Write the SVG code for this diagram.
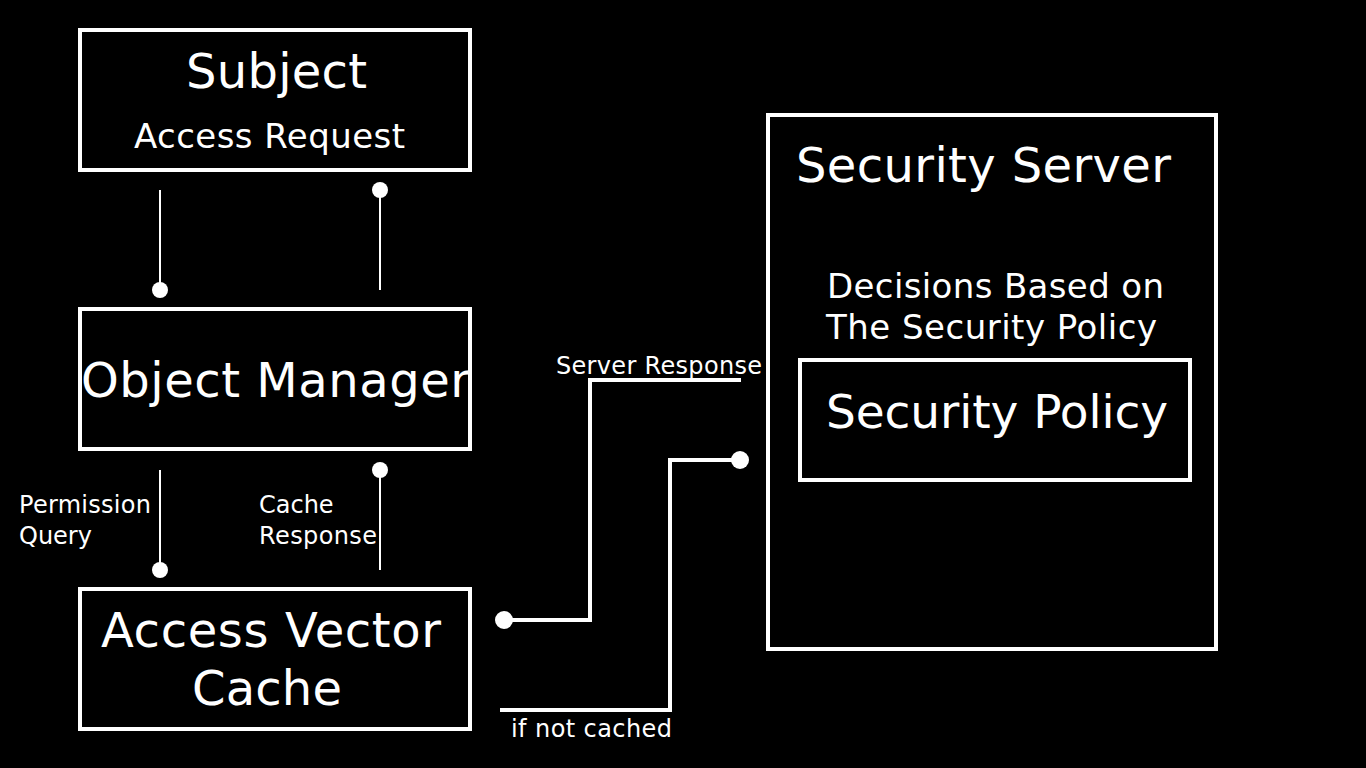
<svg xmlns="http://www.w3.org/2000/svg" width="1366" height="768" viewBox="0 0 1366 768">
<style>
text{font-family:"DejaVu Sans","Liberation Sans",sans-serif;fill:#fff}
.box{fill:none;stroke:#fff;stroke-width:4}
.big{font-size:48px}
.mid{font-size:34px}
.sm{font-size:24px}
.thin{fill:none;stroke:#fff;stroke-width:2}
.thick{fill:none;stroke:#fff;stroke-width:4}
.dot{fill:#fff}
</style>
<rect width="1366" height="768" fill="#000"/>
<g id="subject">
<rect class="box" x="80" y="30" width="390" height="140"/>
<text class="big" x="186" y="88" textLength="181">Subject</text>
<text class="mid" x="134" y="148" textLength="271">Access Request</text>
</g>
<g id="object-manager">
<rect class="box" x="80" y="309" width="390" height="140"/>
<text class="big" x="81" y="397" textLength="389">Object Manager</text>
</g>
<g id="avc">
<rect class="box" x="80" y="589" width="390" height="140"/>
<text class="big" x="101" y="647" textLength="340">Access Vector</text>
<text class="big" x="192" y="705" textLength="150">Cache</text>
</g>
<g id="security-server">
<rect class="box" x="768" y="115" width="448" height="534"/>
<text class="big" x="796" y="182" textLength="375">Security Server</text>
<text class="mid" x="827" y="298" textLength="337">Decisions Based on</text>
<text class="mid" x="826" y="339" textLength="331">The Security Policy</text>
</g>
<g id="security-policy">
<rect class="box" x="800" y="360" width="390" height="120"/>
<text class="big" style="font-size:47px" x="826" y="428" textLength="342">Security Policy</text>
</g>
<g id="connectors">
<line class="thin" x1="160" y1="190" x2="160" y2="290"/>
<circle class="dot" cx="160" cy="290" r="8"/>
<line class="thin" x1="380" y1="190" x2="380" y2="290"/>
<circle class="dot" cx="380" cy="190" r="8"/>
<line class="thin" x1="160" y1="470" x2="160" y2="570"/>
<circle class="dot" cx="160" cy="570" r="8"/>
<line class="thin" x1="380" y1="470" x2="380" y2="570"/>
<circle class="dot" cx="380" cy="470" r="8"/>
<polyline class="thick" points="504,620 590,620 590,380 741,380"/>
<circle class="dot" cx="504" cy="620" r="9"/>
<polyline class="thick" points="500,710 670,710 670,460 740,460"/>
<circle class="dot" cx="740" cy="460" r="9"/>
<text class="sm" x="19" y="513" textLength="132">Permission</text>
<text class="sm" x="19" y="544">Query</text>
<text class="sm" x="259" y="513">Cache</text>
<text class="sm" x="259" y="544" textLength="118">Response</text>
<text class="sm" x="556" y="374" textLength="206">Server Response</text>
<text class="sm" x="511" y="737" textLength="161">if not cached</text>
</g>
</svg>
